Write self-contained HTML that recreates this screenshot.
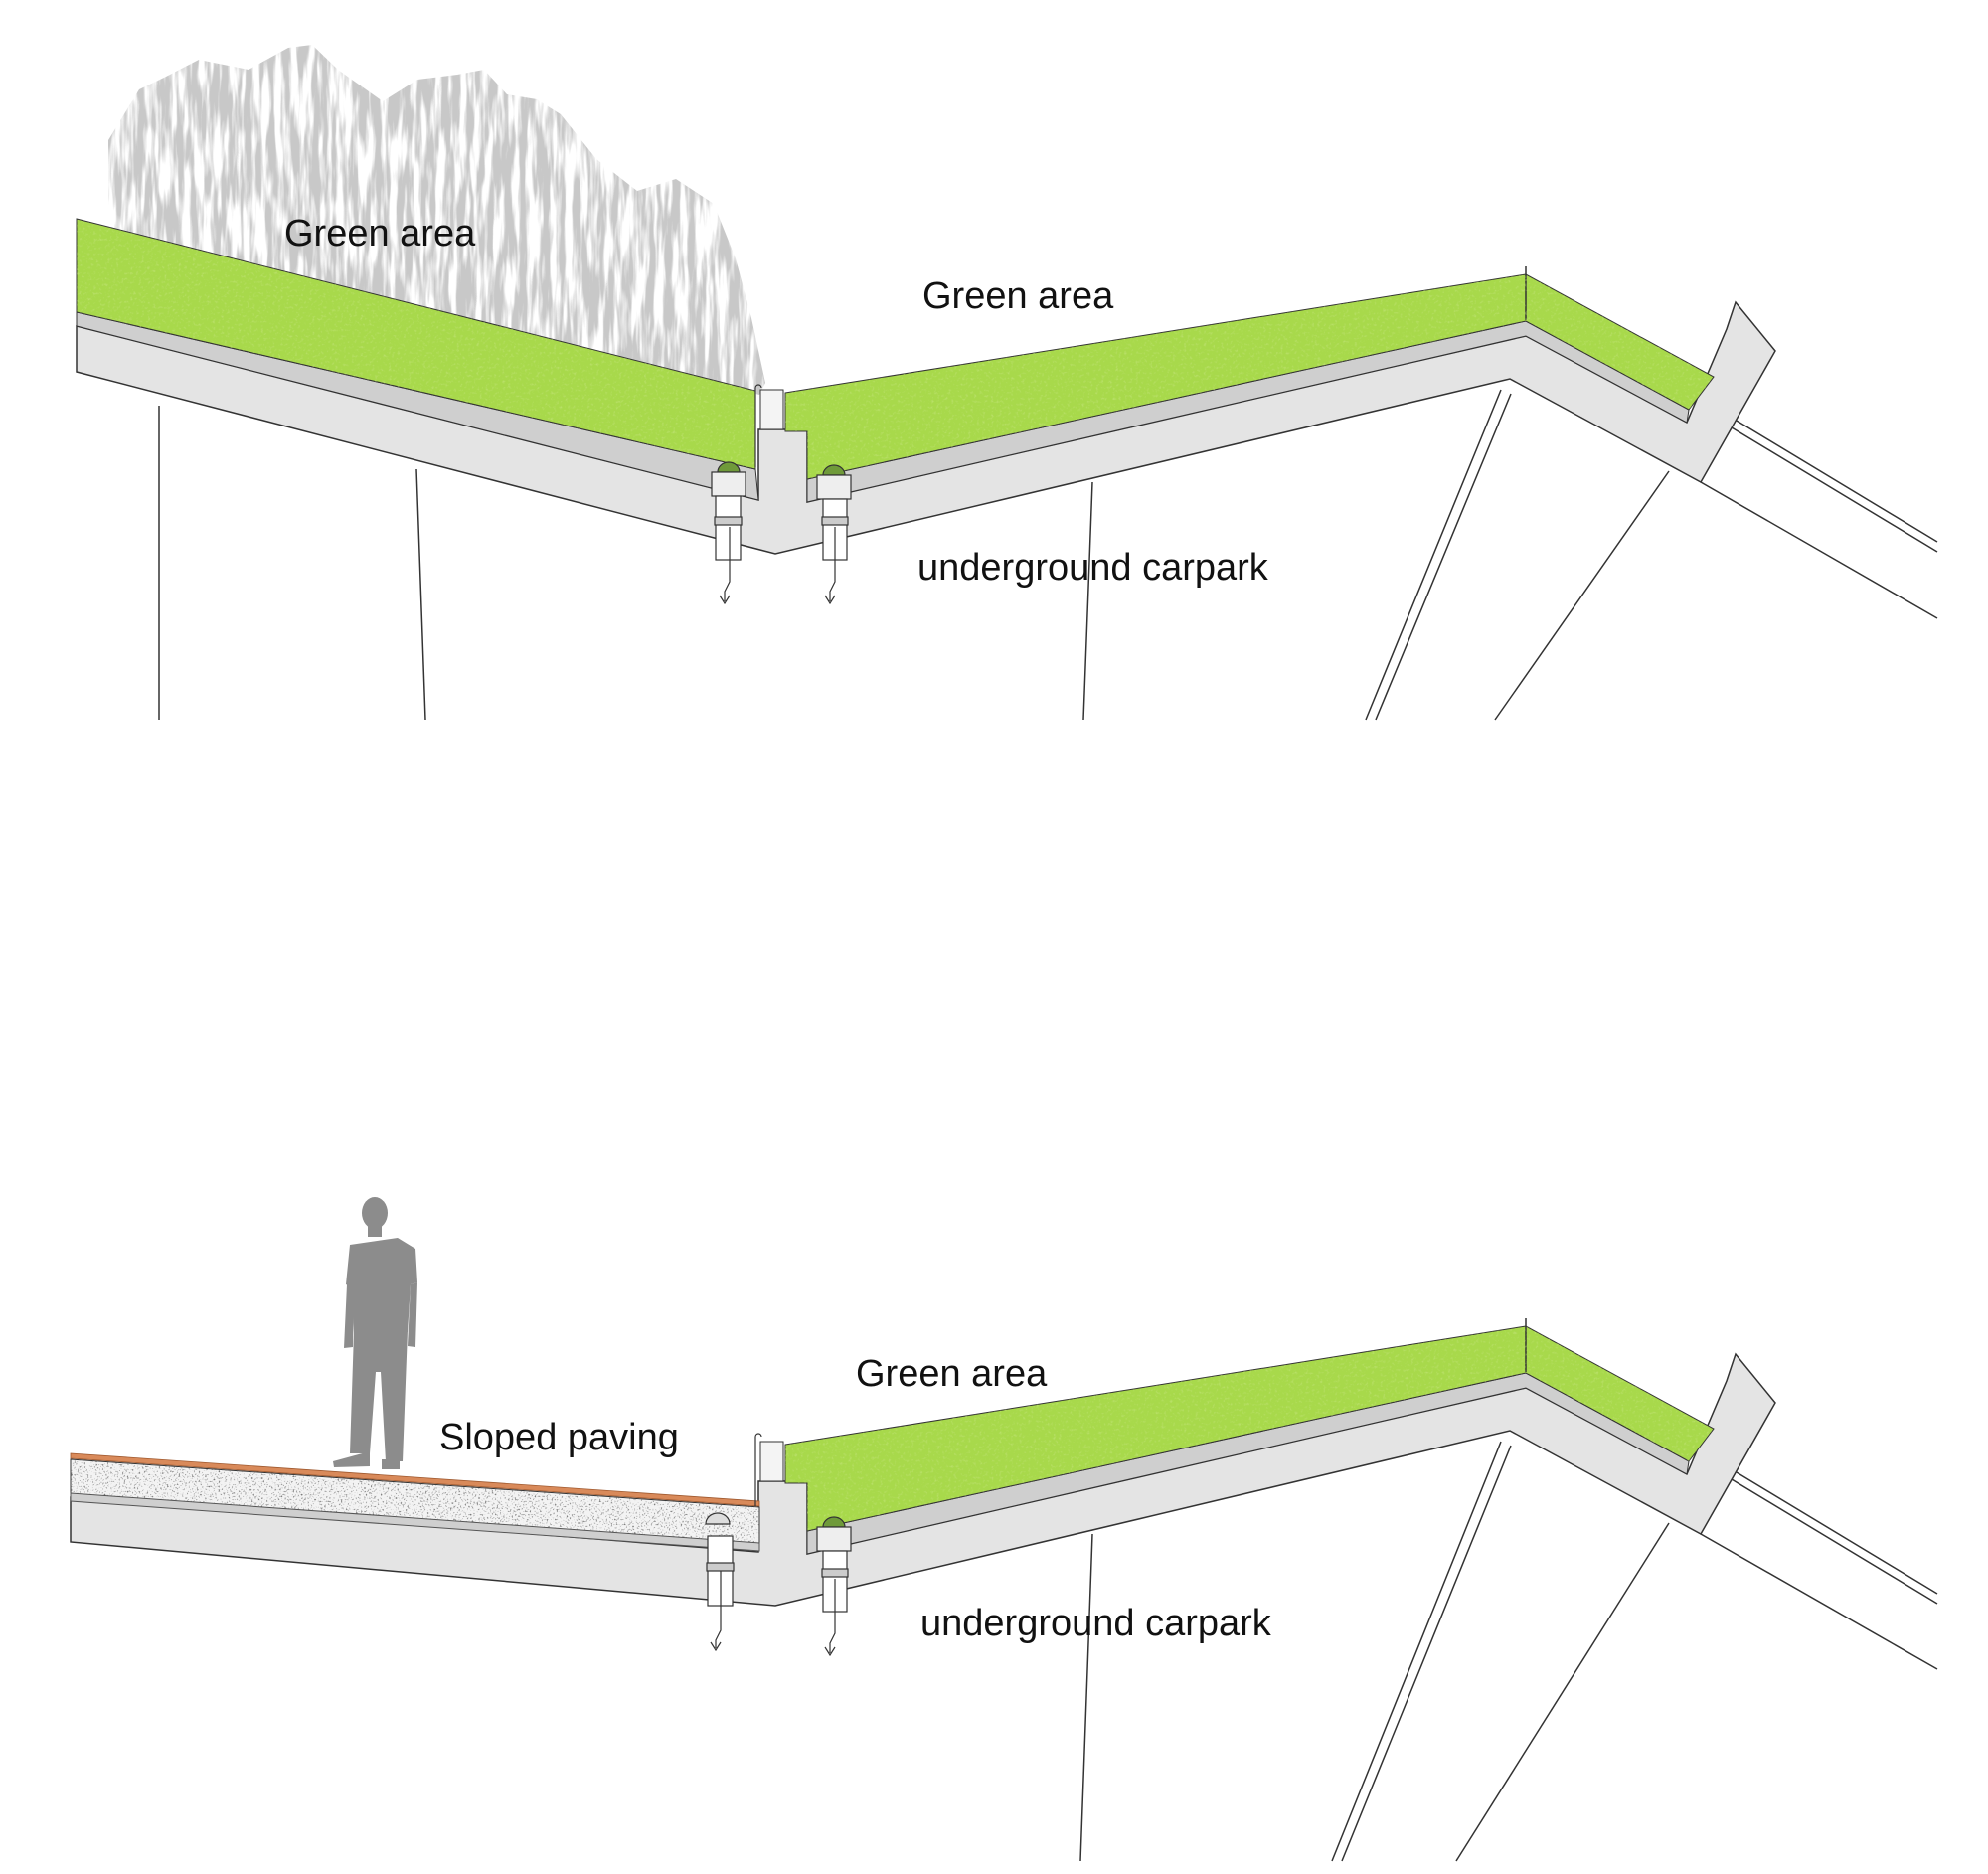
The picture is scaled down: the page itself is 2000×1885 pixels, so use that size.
<!DOCTYPE html>
<html><head><meta charset="utf-8"><style>
html,body{margin:0;padding:0;background:#fff}
svg{display:block}
text{font-family:"Liberation Sans",sans-serif;fill:#111}
</style></head><body>
<svg width="2000" height="1885" viewBox="0 0 2000 1885" xmlns="http://www.w3.org/2000/svg">
<defs>
<filter id="veg" x="0" y="0" width="100%" height="100%">
<feTurbulence type="fractalNoise" baseFrequency="0.13 0.015" numOctaves="3" seed="4"/>
<feColorMatrix values="0 0 0 0 0.58  0 0 0 0 0.58  0 0 0 0 0.58  5 0 0 0 -1.9"/>
</filter>
<filter id="grass" x="0" y="0" width="100%" height="100%">
<feTurbulence type="fractalNoise" baseFrequency="0.35" numOctaves="2" seed="2"/>
<feColorMatrix values="0 0 0 0 0.55  0 0 0 0 0.78  0 0 0 0 0.2  3 0 0 0 -1.6"/>
</filter>
<filter id="grav" x="0" y="0" width="100%" height="100%">
<feTurbulence type="fractalNoise" baseFrequency="0.6" numOctaves="1" seed="7"/>
<feColorMatrix values="0 0 0 0 0.1  0 0 0 0 0.1  0 0 0 0 0.1  5 0 0 0 -2.8"/>
</filter>
<clipPath id="vegclip"><polygon points="109,141 140,90 167,77 200,60 250,70 290,48 314,45 340,70 385,102 420,80 460,75 487,70 510,95 540,100 564,115 600,160 641,192 680,180 718,205 740,260 756,320 770,385 764,397 77,220 109,230"/></clipPath>
<clipPath id="g1"><polygon points="77,220 760,393 760,472 77,314"/></clipPath>
<clipPath id="g2"><polygon points="790,395 1535,276 1724,379 1699,412 1535,323 812,482 812,434 790,434"/></clipPath>
<clipPath id="g3"><polygon points="790,1453 1535,1334 1724,1437 1699,1470 1535,1381 812,1540 812,1492 790,1492"/></clipPath>
<clipPath id="pv"><polygon points="71,1468 764,1516 764,1552 71,1502"/></clipPath>
</defs>

<rect x="60" y="30" width="730" height="380" filter="url(#veg)" clip-path="url(#vegclip)"/>

<g stroke="#333" stroke-width="1.5">
<line x1="160" y1="408" x2="160" y2="724"/>
<line x1="419" y1="472" x2="428" y2="724"/>
<line x1="1099" y1="485" x2="1090" y2="724"/>
<line x1="1510" y1="392" x2="1374" y2="724"/>
<line x1="1520" y1="396" x2="1384" y2="724"/>
<line x1="1679" y1="474" x2="1504" y2="724"/>
<line x1="1711" y1="485" x2="1949" y2="622"/>
<line x1="1737" y1="417" x2="1949" y2="545"/>
<line x1="1737" y1="427" x2="1949" y2="555"/>
<polygon fill="#e4e4e4" points="77,328 763,503 763,432 812,432 812,505 1535,338 1697,425 1737,331 1746,304 1786,353 1711,485 1519,381 780,557 77,374"/>
<polygon fill="#cfcfcf" stroke-width="1" points="77,314 760,472 763,503 77,328"/>
<polygon fill="#cfcfcf" stroke-width="1" points="812,482 1535,323 1699,412 1697,425 1535,338 812,505"/>
<polygon fill="#a8d94b" stroke-width="1" points="77,220 760,393 760,472 77,314"/>
<polygon fill="#a8d94b" stroke-width="1" points="790,395 1535,276 1724,379 1699,412 1535,323 812,482 812,434 790,434"/>
<line x1="1535" y1="268" x2="1535" y2="322"/>
<rect x="765" y="392" width="23" height="40" fill="#f4f4f4" stroke-width="1"/>
</g>
<rect x="60" y="200" width="1700" height="300" filter="url(#grass)" clip-path="url(#g1)" opacity="0.6"/>
<rect x="780" y="260" width="960" height="240" filter="url(#grass)" clip-path="url(#g2)" opacity="0.6"/>
<g stroke="#333" stroke-width="1.2" fill="#fff">
<path d="M722,475 a11,10 0 0 1 22,0 z" fill="#6f9a3a"/>
<rect x="716" y="475" width="34" height="24" fill="#eee"/>
<rect x="720" y="499" width="25" height="64"/>
<rect x="719" y="520" width="27" height="8" fill="#ccc"/>
<path d="M734,530 v55 l-5,10 v10 m-5,-6 l5,8 l5,-8" fill="none"/>
<path d="M828,478 a11,10 0 0 1 22,0 z" fill="#6f9a3a"/>
<rect x="822" y="478" width="34" height="24" fill="#eee"/>
<rect x="828" y="502" width="24" height="61"/>
<rect x="827" y="520" width="26" height="8" fill="#ccc"/>
<path d="M840,530 v55 l-5,10 v10 m-5,-6 l5,8 l5,-8" fill="none"/>
<path d="M760,470 v-80 a3,3 0 0 1 6,0" fill="none"/>
</g>

<g stroke="#333" stroke-width="1.5">
<line x1="1099" y1="1543" x2="1087" y2="1872"/>
<line x1="1510" y1="1450" x2="1340" y2="1872"/>
<line x1="1520" y1="1454" x2="1350" y2="1872"/>
<line x1="1679" y1="1532" x2="1465" y2="1872"/>
<line x1="1711" y1="1543" x2="1949" y2="1679"/>
<line x1="1737" y1="1475" x2="1949" y2="1603"/>
<line x1="1737" y1="1485" x2="1949" y2="1613"/>
<polygon fill="#e4e4e4" points="71,1506 763,1561 763,1490 812,1490 812,1563 1535,1396 1697,1483 1737,1389 1746,1362 1786,1411 1711,1543 1519,1439 780,1615 71,1551"/>
<polygon fill="#f3f3f3" stroke-width="1" points="71,1468 764,1516 764,1554 71,1504"/>
<polygon fill="#cfcfcf" stroke-width="1" points="812,1540 1535,1381 1699,1470 1697,1483 1535,1396 812,1563"/>
<polygon fill="#a8d94b" stroke-width="1" points="790,1453 1535,1334 1724,1437 1699,1470 1535,1381 812,1540 812,1492 790,1492"/>
<line x1="1535" y1="1326" x2="1535" y2="1380"/>
<rect x="765" y="1450" width="23" height="40" fill="#f4f4f4" stroke-width="1"/>
</g>
<rect x="60" y="1460" width="720" height="100" filter="url(#grav)" clip-path="url(#pv)" opacity="0.8"/>
<rect x="780" y="1320" width="960" height="240" filter="url(#grass)" clip-path="url(#g3)" opacity="0.6"/>
<polygon points="71,1502 764,1552 764,1560 71,1510" fill="#cfcfcf" stroke="#555" stroke-width="1"/>
<polygon points="71,1462 764,1510 764,1515 71,1467" fill="#d98a5a" stroke="#a05a30" stroke-width="0.8"/>
<g stroke="#333" stroke-width="1.2" fill="#fff">
<path d="M710,1533 a12,11 0 0 1 24,0 z" fill="#ddd"/>
<rect x="712" y="1545" width="25" height="70"/>
<rect x="711" y="1572" width="27" height="8" fill="#ccc"/>
<path d="M725,1580 v60 l-5,10 v8 m-5,-6 l5,8 l5,-8" fill="none"/>
<path d="M828,1536 a11,10 0 0 1 22,0 z" fill="#6f9a3a"/>
<rect x="822" y="1536" width="34" height="24" fill="#eee"/>
<rect x="828" y="1560" width="24" height="61"/>
<rect x="827" y="1578" width="26" height="8" fill="#ccc"/>
<path d="M840,1588 v55 l-5,10 v10 m-5,-6 l5,8 l5,-8" fill="none"/>
<path d="M760,1515 v-70 a3,3 0 0 1 6,0" fill="none"/>
</g>

<g fill="#8c8c8c">
<ellipse cx="377" cy="1220" rx="13" ry="16"/>
<rect x="370" y="1232" width="14" height="12"/>
<path d="M352,1252 L400,1245 L418,1256 L420,1290 L413,1292 L410,1340 L356,1343 L354,1295 L348,1292 Z"/>
<path d="M349,1292 L356,1294 L355,1355 L346,1356 Z"/>
<path d="M413,1292 L420,1290 L418,1355 L410,1354 Z"/>
<path d="M356,1340 L410,1338 L405,1470 L388,1470 L383,1380 L378,1380 L372,1462 L352,1462 Z"/>
<path d="M335,1470 L372,1460 L372,1475 L336,1476 Z"/>
<path d="M384,1468 L402,1468 L402,1478 L384,1478 Z"/>
</g>

<text x="286" y="247" font-size="38">Green area</text>
<text x="928" y="310" font-size="38">Green area</text>
<text x="923" y="583" font-size="38">underground carpark</text>
<text x="442" y="1458" font-size="38">Sloped paving</text>
<text x="861" y="1394" font-size="38">Green area</text>
<text x="926" y="1645" font-size="38">underground carpark</text>
</svg>
</body></html>
